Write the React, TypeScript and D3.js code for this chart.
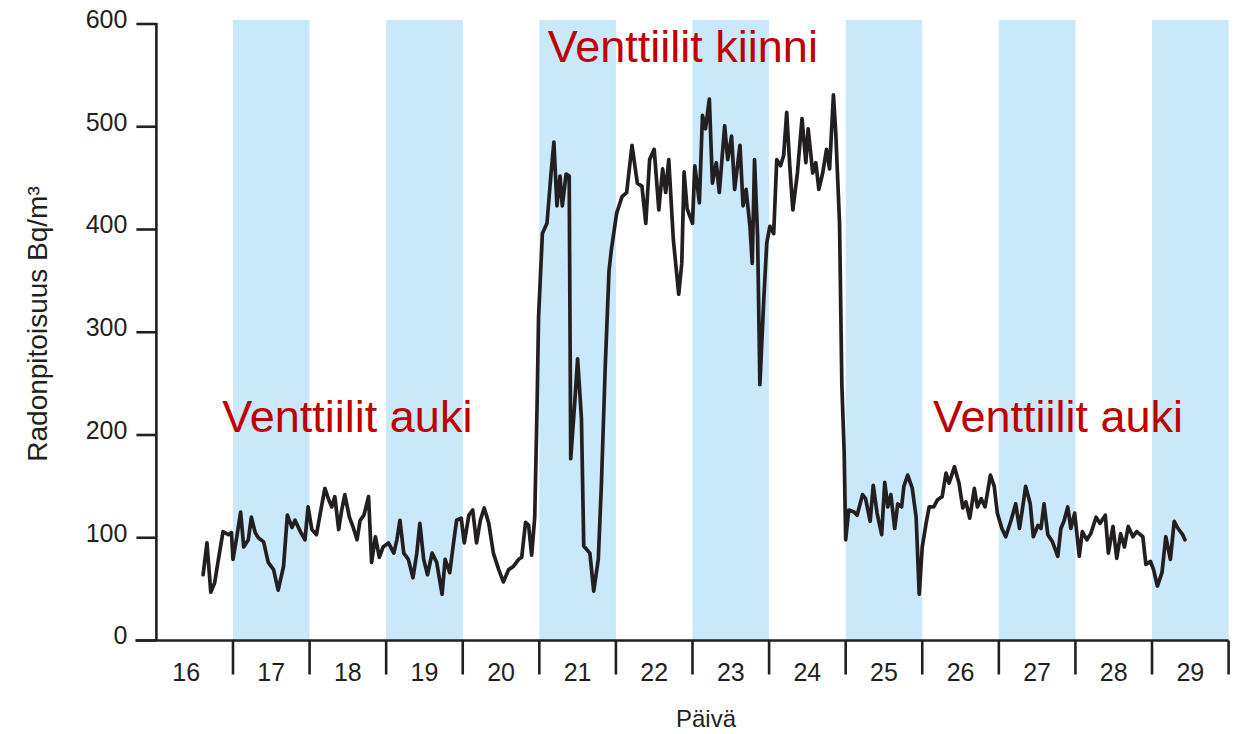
import React from 'react'
import * as d3 from 'd3'

// day boundaries shown on the x axis and the shaded (blue) days
const dayLabels = [16, 17, 18, 19, 20, 21, 22, 23, 24, 25, 26, 27, 28, 29]
const shadedDays = [17, 19, 21, 23, 25, 27, 29]
const yTicks = [0, 100, 200, 300, 400, 500, 600]

const days = [
  16.61, 16.66, 16.71, 16.76, 16.81, 16.87, 16.94, 16.98, 17.0, 17.05, 17.1, 17.14, 17.2, 17.24,
  17.29, 17.33, 17.4, 17.46, 17.53, 17.59, 17.66, 17.71, 17.77, 17.81, 17.88, 17.94, 17.98, 18.03,
  18.09, 18.14, 18.2, 18.25, 18.29, 18.33, 18.38, 18.42, 18.46, 18.52, 18.57, 18.62, 18.66, 18.71,
  18.77, 18.81, 18.86, 18.91, 18.96, 19.03, 19.1, 19.14, 19.18, 19.23, 19.29, 19.35, 19.4, 19.44,
  19.49, 19.54, 19.6, 19.66, 19.73, 19.77, 19.83, 19.88, 19.92, 19.98, 20.02, 20.08, 20.13, 20.18,
  20.23, 20.28, 20.34, 20.4, 20.47, 20.53, 20.6, 20.66, 20.73, 20.77, 20.82, 20.86, 20.9,
  20.94, 20.97, 20.99, 21.04, 21.1, 21.15, 21.19, 21.23, 21.27, 21.3, 21.35, 21.39, 21.41, 21.46,
  21.5, 21.55, 21.58, 21.66, 21.71, 21.77, 21.81, 21.86, 21.91, 21.94, 22.01, 22.08, 22.14, 22.21,
  22.28, 22.34, 22.39, 22.44, 22.5, 22.56, 22.61, 22.65, 22.69, 22.75, 22.82, 22.86,
  22.89, 22.93, 23.0, 23.03, 23.09, 23.13, 23.17, 23.22, 23.26, 23.31, 23.35, 23.42, 23.46, 23.51,
  23.55, 23.62, 23.66, 23.7, 23.75, 23.78, 23.81, 23.85, 23.88, 23.93, 23.97, 24.01, 24.06, 24.1,
  24.15, 24.19, 24.23, 24.27, 24.31, 24.37, 24.43, 24.48, 24.51, 24.57, 24.61, 24.65, 24.7, 24.75,
  24.79, 24.84, 24.87, 24.92, 24.95, 24.98, 25.0,
  25.04, 25.11, 25.15, 25.22, 25.26, 25.32, 25.36, 25.41, 25.47, 25.51, 25.55, 25.59, 25.64, 25.68,
  25.73, 25.76, 25.81, 25.87, 25.92, 25.96, 26.0, 26.05, 26.09, 26.15, 26.2, 26.26, 26.31, 26.35,
  26.42, 26.48, 26.53, 26.57, 26.62, 26.68, 26.72, 26.77, 26.82, 26.89, 26.94, 26.98, 27.04, 27.09,
  27.16, 27.22, 27.27, 27.31, 27.35, 27.41, 27.45, 27.51, 27.55, 27.59, 27.64, 27.7, 27.77, 27.81,
  27.85, 27.9, 27.94, 27.99, 28.05, 28.09, 28.15, 28.2, 28.27, 28.32, 28.39, 28.43, 28.49, 28.54,
  28.59, 28.64, 28.69, 28.75, 28.8, 28.88, 28.92, 28.98, 29.02, 29.07, 29.13, 29.18, 29.24, 29.29,
  29.34, 29.4, 29.43,
]

const radon = [
  64, 95, 47, 56, 79, 106, 103, 105, 79, 101, 125, 91, 98, 120,
  105, 100, 96, 76, 69, 49, 72, 122, 110, 117, 106, 98, 130, 108,
  103, 124, 148, 137, 130, 140, 108, 127, 142, 120, 110, 98, 117, 122,
  140, 76, 101, 81, 91, 95, 85, 98, 117, 85, 79, 61, 85, 114,
  79, 64, 85, 76, 45, 79, 66, 95, 117, 119, 95, 122, 127, 95,
  117, 129, 114, 85, 69, 57, 69, 72, 79, 81, 115, 112, 83,
  120, 226, 315, 396, 406, 452, 485, 423, 452, 423, 454, 452, 177, 229,
  274, 216, 92, 85, 48, 79, 151, 265, 360, 380, 416, 432, 436, 482,
  445, 442, 406, 468, 478, 419, 459, 436, 468, 390, 337, 367,
  456, 420, 406, 462, 426, 511, 498, 527, 445, 465, 436, 501, 468, 491,
  439, 482, 423, 439, 403, 367, 468, 393, 249, 331, 387, 403, 396, 468,
  462, 472, 514, 462, 419, 455, 508, 465, 498, 455, 465, 439, 455, 478,
  459, 531, 495, 406, 249, 184, 98,
  127, 125, 122, 142, 138, 116, 151, 124, 103, 154, 130, 142, 109, 133,
  130, 150, 161, 148, 120, 45, 91, 114, 130, 130, 137, 140, 163, 153,
  169, 153, 129, 135, 119, 148, 130, 138, 130, 161, 150, 124, 109, 101,
  117, 133, 109, 129, 150, 133, 101, 112, 109, 133, 103, 96, 82, 109,
  116, 130, 109, 124, 82, 106, 98, 104, 120, 114, 122, 85, 111, 80,
  104, 91, 111, 101, 106, 101, 74, 77, 69, 53, 66, 101, 79, 116,
  109, 103, 98,
]

const ink = '#231f20'
const red = '#c00000'
const font = '"Liberation Sans", Arial, sans-serif'

export default function App() {
  const width = 1241
  const height = 734

  const x = d3.scaleLinear().domain([16, 30]).range([156.4, 1228.6])
  const y = d3.scaleLinear().domain([0, 600]).range([640.5, 24])

  const axisStart = x(16) - 21
  const points: [number, number][] = days.map((d, i) => [d, radon[i]])

  const line = d3.line<[number, number]>()
    .x((d) => x(d[0]))
    .y((d) => y(d[1]))

  return (
    <svg
      width={width}
      height={height}
      style={{ position: 'absolute', left: 0, top: 0, background: '#fff' }}
      fontFamily={font}
    >
      {/* shaded days */}
      {shadedDays.map((d) => (
        <rect
          key={d}
          x={x(d)}
          y={y(600) - 4}
          width={x(d + 1) - x(d)}
          height={y(0) - y(600) + 4}
          fill="#c9e8fa"
        />
      ))}

      {/* y axis */}
      <line x1={x(16)} x2={x(16)} y1={y(600) - 1} y2={y(0)} stroke={ink} strokeWidth={2.6} />
      {yTicks.map((t) => (
        <g key={t}>
          <line x1={x(16) - 20} x2={x(16)} y1={y(t)} y2={y(t)} stroke={ink} strokeWidth={2.6} />
          <text
            x={x(16) - 29}
            y={y(t) - 5}
            dy="0.35em"
            textAnchor="end"
            fontSize={25}
            fill={ink}
          >
            {t}
          </text>
        </g>
      ))}

      {/* x axis */}
      <line x1={axisStart} x2={x(30)} y1={y(0)} y2={y(0)} stroke={ink} strokeWidth={2.6} />
      {dayLabels.slice(1).concat([30]).map((d) => (
        <line key={d} x1={x(d)} x2={x(d)} y1={y(0)} y2={y(0) + 34} stroke={ink} strokeWidth={2.6} />
      ))}
      {dayLabels.map((d) => (
        <text
          key={d}
          x={d === 16 ? (axisStart + x(17)) / 2 + 2 : x(d + 0.5)}
          y={y(0) + 40}
          textAnchor="middle"
          fontSize={25}
          fill={ink}
        >
          {d}
        </text>
      ))}

      {/* axis titles */}
      <text x={706} y={727} textAnchor="middle" fontSize={24} fill={ink}>
        Päivä
      </text>
      <text
        transform={`translate(47,${(183 + 465) / 2}) rotate(-90)`}
        textAnchor="middle"
        fontSize={28}
        fill={ink}
      >
        Radonpitoisuus Bq/m³
      </text>

      {/* series */}
      <path
        d={line(points) || ''}
        fill="none"
        stroke={ink}
        strokeWidth={3.7}
        strokeLinejoin="round"
        strokeLinecap="round"
      />

      {/* annotations */}
      <text x={x(21.11)} y={y(563)} fontSize={45} fill={red}>
        Venttiilit kiinni
      </text>
      <text x={x(16.86)} y={y(203)} fontSize={45} fill={red}>
        Venttiilit auki
      </text>
      <text x={x(26.14)} y={y(203)} fontSize={45} fill={red}>
        Venttiilit auki
      </text>
    </svg>
  )
}
